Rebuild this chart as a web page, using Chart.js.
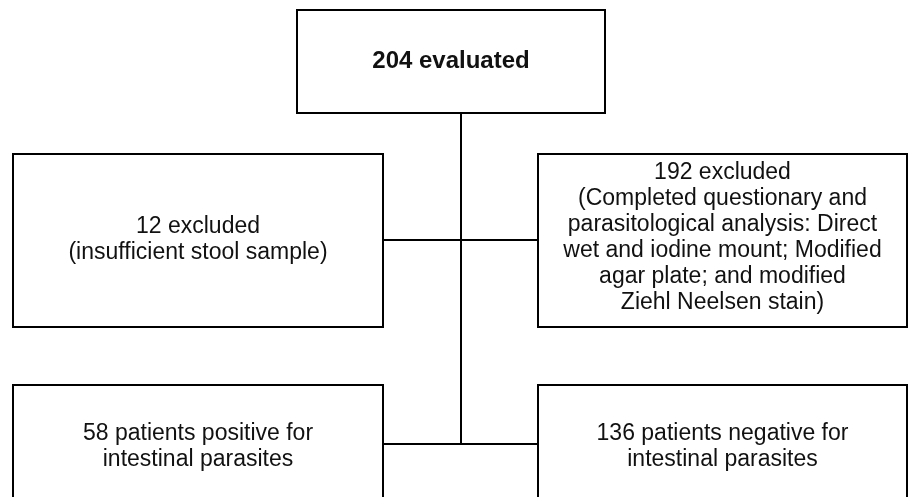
<!DOCTYPE html>
<html>
<head>
<meta charset="utf-8">
<script src="https://cdn.jsdelivr.net/npm/chart.js@4.4.1/dist/chart.umd.min.js"></script>
<style>
  html, body { margin: 0; padding: 0; background: #fff; }
  #wrap { width: 909px; height: 497px; }
</style>
</head>
<body>
<div id="wrap"><canvas id="flow"></canvas></div>
<script>
// flowchart content
const boxIds = ['evaluated', 'insufficient', 'completed', 'positive', 'negative'];
const boxLines = [
  ['204 evaluated'],
  ['12 excluded', '(insufficient stool sample)'],
  ['192 excluded', '(Completed questionary and', 'parasitological analysis: Direct',
   'wet and iodine mount; Modified', 'agar plate; and modified', 'Ziehl Neelsen stain)'],
  ['58 patients positive for', 'intestinal parasites'],
  ['136 patients negative for', 'intestinal parasites']
];
const boxBold = [true, false, false, false, false];

// layout in diagram units (x: 0..909, y: 0..497 top-down)
const layout = {
  evaluated:    { x1: 297, x2: 605, y1: 10,  y2: 113, ty: 61 },
  insufficient: { x1: 13,  x2: 383, y1: 154, y2: 327, ty: 240 },
  completed:    { x1: 538, x2: 907, y1: 154, y2: 327, ty: 237.5 },
  positive:     { x1: 13,  x2: 383, y1: 385, y2: 530, ty: 447 },
  negative:     { x1: 538, x2: 907, y1: 385, y2: 530, ty: 447 }
};
const connectors = [
  [[461, 113], [461, 444]],
  [[383, 240], [538, 240]],
  [[383, 444], [538, 444]]
];
const lineHeight = 26;

const flowPlugin = {
  id: 'flow',
  afterDraw(chart) {
    const ctx = chart.ctx;
    const xs = chart.scales.x;
    const ys = chart.scales.y;
    ctx.save();
    ctx.strokeStyle = '#000';
    ctx.lineWidth = 2;

    connectors.forEach(seg => {
      ctx.beginPath();
      ctx.moveTo(xs.getPixelForValue(seg[0][0]), ys.getPixelForValue(seg[0][1]));
      ctx.lineTo(xs.getPixelForValue(seg[1][0]), ys.getPixelForValue(seg[1][1]));
      ctx.stroke();
    });

    boxIds.forEach((id, i) => {
      const b = layout[id];
      const left = xs.getPixelForValue(b.x1);
      const right = xs.getPixelForValue(b.x2);
      const top = ys.getPixelForValue(b.y1);
      const bottom = ys.getPixelForValue(b.y2);
      ctx.fillStyle = '#fff';
      ctx.fillRect(left, top, right - left, bottom - top);
      ctx.strokeRect(left, top, right - left, bottom - top);

      const lines = boxLines[i];
      const cx = (left + right) / 2;
      const cy = ys.getPixelForValue(b.ty);
      ctx.fillStyle = '#111';
      ctx.font = boxBold[i] ? 'bold 24px "Liberation Sans", Arial, sans-serif'
                            : '23px "Liberation Sans", Arial, sans-serif';
      ctx.textAlign = 'center';
      ctx.textBaseline = 'middle';
      lines.forEach((t, k) => {
        const y = cy + (k - (lines.length - 1) / 2) * lineHeight;
        ctx.fillText(t, cx, y);
      });
    });
    ctx.restore();
  }
};

new Chart(document.getElementById('flow'), {
  type: 'scatter',
  data: { datasets: [{ data: [], pointRadius: 0 }] },
  options: {
    responsive: true,
    maintainAspectRatio: false,
    animation: false,
    events: [],
    layout: { padding: 0 },
    plugins: { legend: { display: false }, tooltip: { enabled: false } },
    scales: {
      x: { type: 'linear', min: 0, max: 909, display: false },
      y: { type: 'linear', min: 0, max: 497, reverse: true, display: false }
    }
  },
  plugins: [flowPlugin]
});
</script>
</body>
</html>
